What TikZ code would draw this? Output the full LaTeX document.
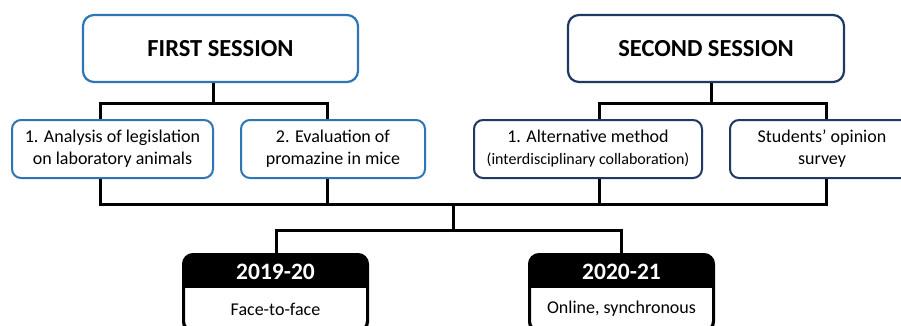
\documentclass[tikz,border=0pt]{standalone}
\usepackage{fontspec}
\setmainfont{Carlito}
\definecolor{blueA}{HTML}{2E75B6}
\definecolor{navyB}{HTML}{1F3864}
\begin{document}
\begin{tikzpicture}[x=1pt,y=-1pt,
  conn/.style={line width=3pt, black, line join=miter},
  titlebox/.style={draw=#1, line width=2.2pt, rounded corners=11pt, fill=white,
    minimum height=67pt, inner sep=0pt, font=\fontsize{24.5}{28}\selectfont\bfseries},
  subbox/.style={draw=#1, line width=2pt, rounded corners=9pt, fill=white,
    minimum height=58pt, inner sep=0pt, align=center,
    font=\fontsize{18}{22}\selectfont},
  yearbox/.style={draw=black, line width=2pt, rounded corners=10pt, fill=white,
    minimum width=183pt, minimum height=76pt, inner sep=0pt},
  yearhead/.style={text=white, inner sep=0pt, font=\fontsize{23.5}{27}\selectfont\bfseries},
  yeartext/.style={inner sep=0pt, font=\fontsize{18}{21}\selectfont},
]
\useasboundingbox (0,0) rectangle (901,325);
\fill[white] (0,0) rectangle (901,325);

% title and sub boxes
\node[titlebox=blueA, minimum width=275pt] (first) at (220.5,48.5) {FIRST SESSION};
\node[titlebox=navyB, minimum width=276pt] (second) at (706,48.5) {SECOND SESSION};
\node[subbox=blueA, minimum width=201pt] (c1) at (112.5,149) {1. Analysis of legislation\\on laboratory animals};
\node[subbox=blueA, minimum width=184pt] (c2) at (333,149) {2. Evaluation of\\promazine in mice};
\node[subbox=navyB, minimum width=228pt] (c3) at (588,149) {1. Alternative method\\{\fontsize{16}{19}\selectfont(interdisciplinary collaboration)}};
\node[subbox=navyB, minimum width=184pt] (c4) at (822,149) {Students’ opinion\\survey};

% year boxes
\node[yearbox] (y1) at (275.5,293) {};
\node[yearbox] (y2) at (621.5,293) {};
\foreach \b in {y1,y2}{
  \begin{scope}
    \clip[rounded corners=10pt] (\b.south west) rectangle (\b.north east);
    \fill[black] (\b.north west) rectangle ([yshift=-34pt]\b.north east);
  \end{scope}
  \draw[line width=2pt, rounded corners=10pt] (\b.south west) rectangle (\b.north east);
}
\node[yearhead] (y1h) at (275.5,272) {2019-20};
\node[yearhead] (y2h) at (621.5,272) {2020-21};
\node[yeartext] (y1t) at (275.5,309) {Face-to-face};
\node[yeartext] (y2t) at (621.5,309) {Online, synchronous};

% junction coordinates
\coordinate (L1) at (100,103);
\coordinate (R1) at (327,103);
\coordinate (L2) at (599,103);
\coordinate (R2) at (826,103);
\coordinate (M) at (453,204);
\coordinate (Y1) at (276,230);
\coordinate (Y2) at (621,230);

% connectors
\draw[conn] ([xshift=-7.5pt]first.south) -- ([xshift=-7.5pt]first.south |- L1);
\draw[conn] (c1.north -| L1) -- (L1) -- (R1) -- (c2.north -| R1);
\draw[conn] ([xshift=5pt]second.south) -- ([xshift=5pt]second.south |- L2);
\draw[conn] (c3.north -| L2) -- (L2) -- (R2) -- (c4.north -| R2);
\draw[conn] (c1.south -| L1) -- (L1 |- M) -- (R2 |- M) -- (c4.south -| R2);
\draw[conn] (c2.south -| R1) -- (R1 |- M);
\draw[conn] (c3.south -| L2) -- (L2 |- M);
\draw[conn] (M) -- (M |- Y1);
\draw[conn] (y1.north -| Y1) -- (Y1) -- (Y2) -- (y2.north -| Y2);
\end{tikzpicture}
\end{document}
